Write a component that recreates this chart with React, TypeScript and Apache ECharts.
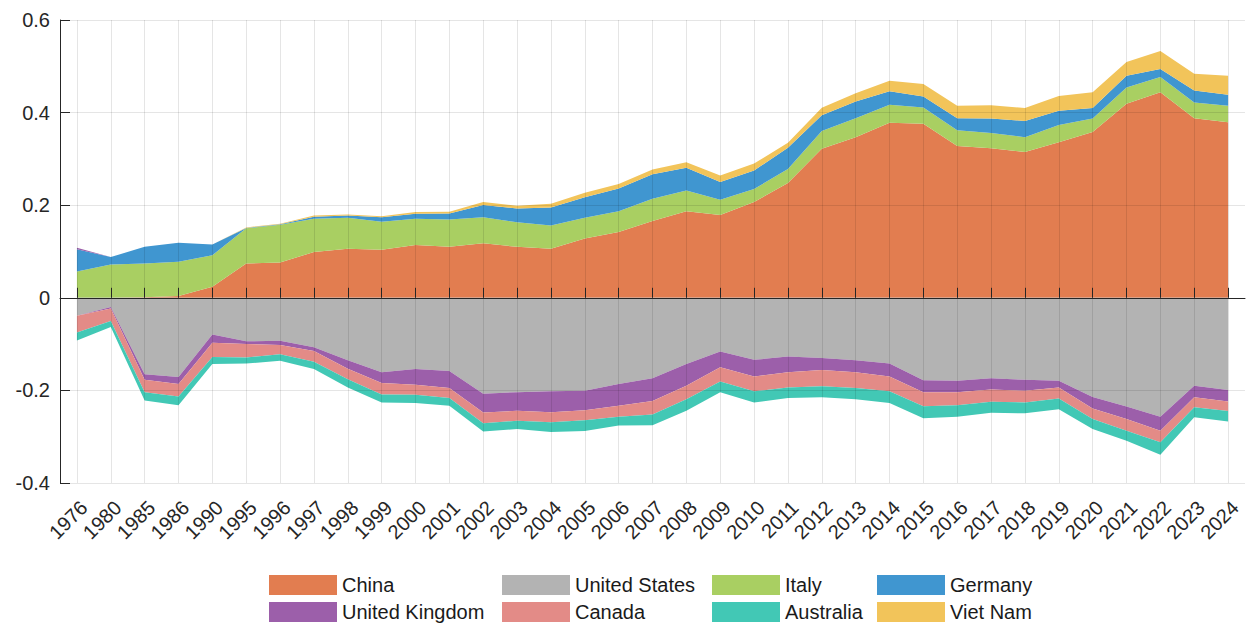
import React, { useEffect, useRef } from "react";
import * as echarts from "echarts";

const years = [
  "1976", "1980", "1985", "1986", "1990", "1995", "1996", "1997", "1998", "1999",
  "2000", "2001", "2002", "2003", "2004", "2005", "2006", "2007", "2008", "2009",
  "2010", "2011", "2012", "2013", "2014", "2015", "2016", "2017", "2018", "2019",
  "2020", "2021", "2022", "2023", "2024",
];

const china = [
  0, 0, 0.001, 0.004, 0.024, 0.074, 0.076, 0.099, 0.106, 0.104,
  0.114, 0.11, 0.118, 0.11, 0.106, 0.128, 0.142, 0.166, 0.187, 0.179,
  0.207, 0.248, 0.322, 0.347, 0.378, 0.376, 0.328, 0.323, 0.315, 0.336,
  0.358, 0.419, 0.444, 0.388, 0.379,
];
const unitedStates = [
  -0.039, -0.02, -0.165, -0.171, -0.079, -0.094, -0.093, -0.107, -0.135, -0.161,
  -0.154, -0.158, -0.207, -0.204, -0.202, -0.201, -0.186, -0.174, -0.143, -0.116,
  -0.134, -0.127, -0.13, -0.135, -0.142, -0.178, -0.179, -0.174, -0.177, -0.179,
  -0.214, -0.235, -0.257, -0.19, -0.199,
];
const italy = [
  0.057, 0.072, 0.073, 0.074, 0.068, 0.076, 0.082, 0.072, 0.067, 0.06,
  0.057, 0.059, 0.056, 0.053, 0.05, 0.045, 0.045, 0.048, 0.045, 0.033,
  0.028, 0.03, 0.038, 0.041, 0.039, 0.035, 0.034, 0.033, 0.032, 0.037,
  0.029, 0.035, 0.033, 0.034, 0.036,
];
const germany = [
  0.048, 0.016, 0.036, 0.041, 0.023, 0.001, 0.001, 0.004, 0.005, 0.01,
  0.0105, 0.013, 0.0265, 0.03, 0.039, 0.044, 0.049, 0.053, 0.049, 0.038,
  0.04, 0.046, 0.0345, 0.036, 0.029, 0.024, 0.026, 0.031, 0.035, 0.031,
  0.023, 0.0255, 0.017, 0.026, 0.0236,
];
const unitedKingdom = [
  0.003, -0.003, -0.012, -0.015, -0.018, -0.006, -0.009, -0.008, -0.018, -0.023,
  -0.034, -0.037, -0.041, -0.04, -0.045, -0.042, -0.047, -0.049, -0.047, -0.034,
  -0.036, -0.034, -0.026, -0.026, -0.028, -0.026, -0.025, -0.024, -0.024, -0.015,
  -0.025, -0.027, -0.03, -0.025, -0.025,
];
const canada = [
  -0.036, -0.027, -0.027, -0.027, -0.031, -0.029, -0.02, -0.023, -0.023, -0.025,
  -0.0215, -0.0216, -0.023, -0.0215, -0.0216, -0.0215, -0.024, -0.029, -0.029, -0.031,
  -0.032, -0.0325, -0.035, -0.034, -0.032, -0.0305, -0.028, -0.0267, -0.025, -0.0235,
  -0.023, -0.025, -0.025, -0.0216, -0.0205,
];
const australia = [
  -0.017, -0.013, -0.018, -0.019, -0.015, -0.013, -0.014, -0.016, -0.018, -0.017,
  -0.0175, -0.0164, -0.0175, -0.018, -0.0215, -0.023, -0.019, -0.023, -0.025, -0.023,
  -0.024, -0.023, -0.024, -0.024, -0.025, -0.0255, -0.025, -0.0237, -0.0236, -0.023,
  -0.0214, -0.0216, -0.027, -0.0214, -0.0227,
];
const vietNam = [
  0, 0, 0, 0, 0, 0.001, 0.001, 0.003, 0.002, 0.002,
  0.004, 0.004, 0.0065, 0.006, 0.008, 0.01, 0.01, 0.01, 0.012, 0.014,
  0.015, 0.011, 0.016, 0.018, 0.023, 0.027, 0.027, 0.029, 0.028, 0.032,
  0.034, 0.03, 0.039, 0.036, 0.041,
];

const yTicks = [-0.4, -0.2, 0, 0.2, 0.4, 0.6];

const countries = [
  { name: "China", data: china, color: "#E27D50" },
  { name: "United States", data: unitedStates, color: "#B3B3B3" },
  { name: "Italy", data: italy, color: "#A9CF62" },
  { name: "Germany", data: germany, color: "#4096D0" },
  { name: "United Kingdom", data: unitedKingdom, color: "#9C5FAA" },
  { name: "Canada", data: canada, color: "#E38B87" },
  { name: "Australia", data: australia, color: "#42C8B5" },
  { name: "Viet Nam", data: vietNam, color: "#F2C45A" },
];

const legendColumns = [
  ["China", "United Kingdom"],
  ["United States", "Canada"],
  ["Italy", "Australia"],
  ["Germany", "Viet Nam"],
];
const legendLefts = [269, 502, 712, 877];

const FONT = "'Liberation Sans', Arial, Helvetica, sans-serif";

export default function App() {
  const ref = useRef<HTMLDivElement>(null);
  useEffect(() => {
    if (!ref.current) return;
    const chart = echarts.init(ref.current, undefined, { renderer: "svg" });
    const mk = (c: any, sign: number) => ({
      name: c.name,
      type: "line",
      stack: sign > 0 ? "pos" : "neg",
      stackStrategy: "all",
      data: c.data.map((v: number) => (sign > 0 ? (v > 0 ? v : 0) : v < 0 ? v : 0)),
      color: c.color,
      itemStyle: { color: c.color },
      showSymbol: false,
      symbol: "none",
      silent: true,
      lineStyle: { width: 0, opacity: 0 },
      areaStyle: { color: c.color, opacity: 1 },
      emphasis: { disabled: true },
      z: 2,
    });
    const series: any[] = [];
    countries.forEach((c) => series.push(mk(c, 1)));
    countries.forEach((c) => series.push(mk(c, -1)));

    chart.setOption({
      animation: false,
      textStyle: { fontFamily: FONT },
      grid: { left: 60, right: 5, top: 20, bottom: 140, outerBoundsMode: "none", containLabel: false },
      legend: legendColumns.map((col, i) => ({
        data: col,
        orient: "vertical",
        left: legendLefts[i],
        top: 575,
        itemWidth: 68,
        itemHeight: 20,
        itemGap: 7,
        icon: "rect",
        padding: 0,
        selectedMode: false,
        textStyle: { fontSize: 20, color: "#1a1a1a", fontFamily: FONT },
      })),
      xAxis: {
        type: "category",
        data: years,
        boundaryGap: true,
        z: 5,
        axisLine: { show: true, lineStyle: { color: "#262626", width: 1 } },
        axisTick: { show: true, inside: true, length: 10, alignWithLabel: true, lineStyle: { color: "#262626" } },
        axisLabel: {
          interval: 0,
          rotate: 45,
          fontSize: 20,
          color: "#262626",
          margin: 14,
          verticalAlign: "top",
          fontFamily: FONT,
        },
        splitLine: { show: true, alignWithLabel: true, interval: 0, lineStyle: { color: "rgba(0,0,0,0.1)", width: 1 } },
      },
      yAxis: {
        type: "value",
        min: yTicks[0],
        max: yTicks[yTicks.length - 1],
        interval: 0.2,
        z: 5,
        axisLine: { show: true, lineStyle: { color: "#262626", width: 1 } },
        axisTick: { show: true, inside: true, length: 10, lineStyle: { color: "#262626" } },
        axisLabel: {
          fontSize: 20,
          color: "#262626",
          margin: 10,
          fontFamily: FONT,
          formatter: (v: number) => String(Math.round(v * 10) / 10),
        },
        splitLine: { show: true, lineStyle: { color: "rgba(0,0,0,0.1)", width: 1 } },
      },
      series,
    });
    return () => chart.dispose();
  }, []);
  return (
    <div
      ref={ref}
      style={{ position: "fixed", left: 0, top: 0, width: 1250, height: 623, background: "#fff" }}
    />
  );
}
